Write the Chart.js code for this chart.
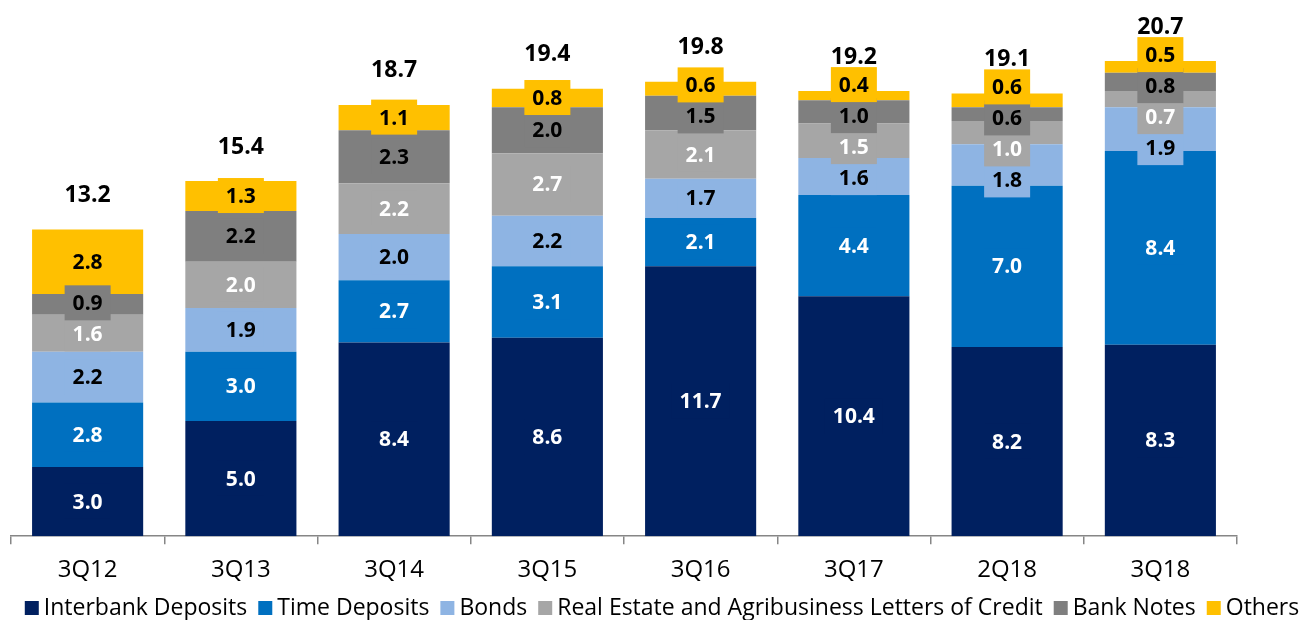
<!DOCTYPE html>
<html><head><meta charset="utf-8">
<script src="https://cdn.jsdelivr.net/npm/chart.js@4/dist/chart.umd.min.js"></script>
<style>html,body{margin:0;padding:0;background:#fff}#wrap{width:1311px;height:620px}</style>
</head><body><div id="wrap"><canvas id="c" width="1311" height="620"></canvas></div>
<script>
const categories = ['3Q12','3Q13','3Q14','3Q15','3Q16','3Q17','2Q18','3Q18'];
const interbankDeposits = [3.0,5.0,8.4,8.6,11.7,10.4,8.2,8.3];
const timeDeposits = [2.8,3.0,2.7,3.1,2.1,4.4,7.0,8.4];
const bonds = [2.2,1.9,2.0,2.2,1.7,1.6,1.8,1.9];
const realEstateAgriLetters = [1.6,2.0,2.2,2.7,2.1,1.5,1.0,0.7];
const bankNotes = [0.9,2.2,2.3,2.0,1.5,1.0,0.6,0.8];
const others = [2.8,1.3,1.1,0.8,0.6,0.4,0.6,0.5];
const totals = [13.2,15.4,18.7,19.4,19.8,19.2,19.1,20.7];
const seriesNames = ['Interbank Deposits','Time Deposits','Bonds','Real Estate and Agribusiness Letters of Credit','Bank Notes','Others'];

const seriesValues = [interbankDeposits,timeDeposits,bonds,realEstateAgriLetters,bankNotes,others];
const colors = ['#002060','#0070C0','#8EB4E3','#A6A6A6','#7F7F7F','#FFC000'];
const labelColors = ['#ffffff','#ffffff','#000000','#ffffff','#000000','#000000'];
const FONT = "'Open Sans', sans-serif";

const labelPlugin = {
  id: 'segLabels',
  afterDatasetsDraw(chart) {
    const ctx = chart.ctx;
    const n = chart.data.datasets.length;
    ctx.save();
    ctx.textAlign = 'center';
    ctx.textBaseline = 'middle';
    const gap = 31;
    for (let i = 0; i < categories.length; i++) {
      ctx.font = "bold 21px " + FONT;
      const items = [];
      for (let d = 0; d < n; d++) {
        const el = chart.getDatasetMeta(d).data[i];
        items.push({d, x: el.x, y: (el.y + el.base) / 2, v: chart.data.datasets[d].data[i]});
      }
      const barTop = chart.getDatasetMeta(n - 1).data[i].y;
      for (let it = 0; it < 300; it++) {
        for (let k = 1; k < items.length; k++) {
          const sep = items[k - 1].y - items[k].y;
          if (sep < gap) {
            const o = (gap - sep) / 2;
            items[k - 1].y += o; items[k].y -= o;
          }
        }
        const top = items[items.length - 1];
        if (top.y < barTop - 6) top.y = barTop - 6;
      }
      for (const it of items) {
        const txt = it.v.toFixed(1);
        const w = ctx.measureText(txt).width + 16;
        ctx.fillStyle = colors[it.d];
        ctx.fillRect(it.x - w / 2, it.y - 18, w, 35);
      }
      for (const it of items) {
        ctx.fillStyle = labelColors[it.d];
        ctx.fillText(it.v.toFixed(1), it.x, it.y + 1);
      }
      ctx.font = "bold 23px " + FONT;
      ctx.fillStyle = '#000';
      ctx.fillText(totals[i].toFixed(1), items[0].x, barTop - 34);
    }
    ctx.restore();
  }
};

const legendPlugin = {
  id: 'customLegend',
  afterDraw(chart) {
    const ctx = chart.ctx;
    ctx.save();
    const fs = 23;
    ctx.font = fs + "px " + FONT;
    ctx.textBaseline = 'middle';
    ctx.textAlign = 'left';
    const box = 14, boxGap = 5, itemGap = 11;
    const widths = seriesNames.map(s => ctx.measureText(s).width);
    let total = 0;
    widths.forEach(w => total += box + boxGap + w);
    total += itemGap * (seriesNames.length - 1);
    let x = 662 - total / 2;
    const y = 608;
    seriesNames.forEach((s, k) => {
      ctx.fillStyle = colors[k];
      ctx.fillRect(x, y - box / 2, box, box);
      x += box + boxGap;
      ctx.fillStyle = '#000';
      ctx.fillText(s, x, y);
      x += widths[k] + itemGap;
    });
    ctx.restore();
  }
};

new Chart(document.getElementById('c'), {
  type: 'bar',
  data: {
    labels: categories,
    datasets: seriesValues.map((vals, k) => ({
      label: seriesNames[k],
      data: vals,
      backgroundColor: colors[k],
      borderWidth: 0,
      categoryPercentage: 1.0,
      barPercentage: 0.725
    }))
  },
  options: {
    responsive: false,
    animation: false,
    devicePixelRatio: 1,
    layout: {padding: {left: 11, right: 74, top: 0, bottom: 23}},
    scales: {
      x: {
        stacked: true,
        grid: {offset: true, drawOnChartArea: false, tickLength: 8, color: '#868686', lineWidth: 1.5},
        border: {display: true, color: '#868686', width: 1.5},
        ticks: {color: '#000', font: {family: FONT, size: 24}, padding: 12}
      },
      y: {stacked: true, display: false, min: 0, max: 23.25}
    },
    plugins: {
      legend: {display: false},
      tooltip: {enabled: false}
    }
  },
  plugins: [labelPlugin, legendPlugin]
});
</script></body></html>
